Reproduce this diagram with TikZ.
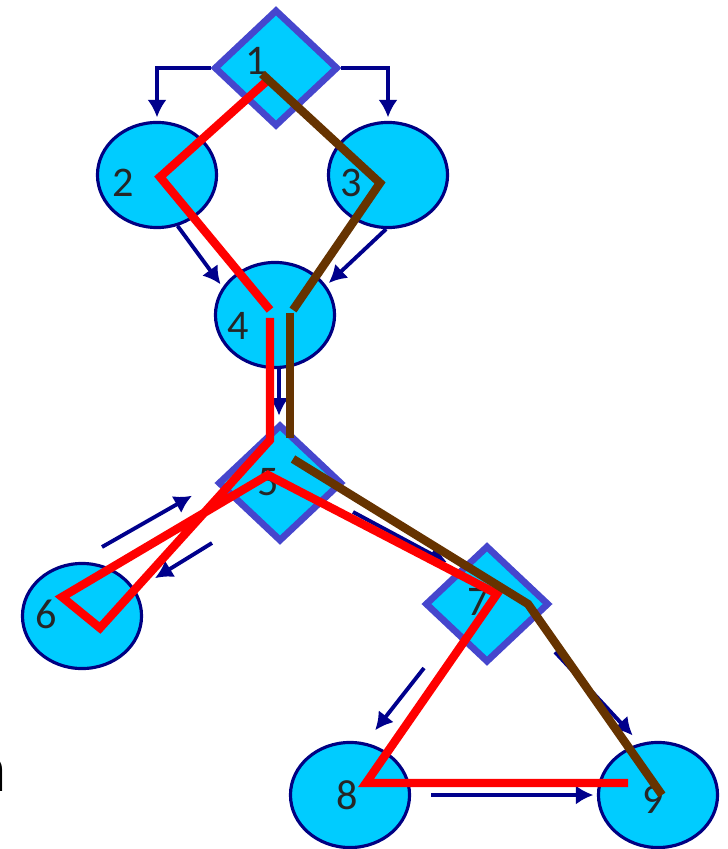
\documentclass[tikz,border=0pt]{standalone}
\usepackage{fontspec}
\setmainfont{Carlito}
\usetikzlibrary{shapes.geometric, arrows.meta, calc}
\definecolor{ballFill}{RGB}{0,204,255}
\definecolor{ballLine}{RGB}{0,0,130}
\definecolor{gateLine}{RGB}{70,70,205}
\definecolor{arrNavy}{RGB}{0,0,140}
\definecolor{routeRed}{RGB}{255,0,0}
\definecolor{routeBrown}{RGB}{102,51,0}
\tikzset{
    >={Latex[length=5pt, width=5.5pt]},
    % Shapes
    ball/.style={ellipse, draw=ballLine, fill=ballFill, line width=0.9pt,
                 minimum width=1.19cm, minimum height=1.05cm, inner sep=0pt},
    gate/.style={diamond, draw=gateLine, fill=ballFill, line width=1.9pt,
                 minimum width=1.24cm, minimum height=1.17cm, inner sep=0pt},
    num/.style={font=\fontsize{12}{14}\selectfont, inner sep=0pt, text=black!85},
    % Flow & routes
    arr/.style={->, draw=arrNavy, line width=1.1pt, shorten >=1pt},
    route/.style={line width=2.4pt}
}

\begin{document}
\begin{tikzpicture}[x=0.01cm, y=-0.01cm]
\useasboundingbox (0,0) rectangle (727,849);

% Nodes
\node[gate] (n1) at (276,68) {};
\node[ball] (n2) at (157,175) {};
\node[ball] (n3) at (388,175) {};
\node[ball] (n4) at (275,315) {};
\node[gate] (n5) at (280,483) {};
\node[ball] (n6) at (82,616) {};
\node[gate] (n7) at (487,604) {};
\node[ball] (n8) at (350,795) {};
\node[ball] (n9) at (658,795) {};

% Numbers
\node[num] (t1) at (256,61) {1};
\node[num] (t2) at (123,183) {2};
\node[num] (t3) at (351,183) {3};
\node[num] (t4) at (238,326) {4};
\node[num] (t5) at (268,482) {5};
\node[num] (t6) at (46,614) {6};
\node[num] (t7) at (478,602) {7};
\node[num] (t8) at (347,795) {8};
\node[num] (t9) at (653,800) {9};

\node[font=\fontsize{20}{22}\selectfont\bfseries, inner sep=0pt, anchor=base east] (side) at (7,791) {a};

% Arrows
\draw[arr] (n1.west) -| (n2);
\draw[arr] (n1.east) -| (n3);
\draw[arr] (n2.-68) -- (n4.152);
\draw[arr] (n3.-92) -- (n4.30);
\draw[arr] ([xshift=0.04cm]n4.south) -- ++(0,50);
\draw[arr] ([shift={(20,-69)}]n6.center) -- ([shift={(-85,11)}]n5.center);
\draw[arr] ([shift={(-68,60)}]n5.center) -- ([shift={(70,-36)}]n6.center);
\draw[arr] ([shift={(73,29)}]n5.center) -- ([shift={(-37,-40)}]n7.center);
\draw[arr] ([shift={(-63,64)}]n7.center) -- ([shift={(23,-62)}]n8.center);
\draw[arr] ([shift={(68,48)}]n7.center) -- ([shift={(-23,-57)}]n9.center);
\draw[arr, shorten <=0.2cm] (n8.east) -- (n9.west);

% Red route
\draw[route, routeRed] ($(n1)+(-8,12)$) -- ($(n2)+(3,2)$) -- ($(n4)+(-5,-5)$);
\draw[route, routeRed] ($(n4)+(-5,3)$) -- ($(n5)+(-10,-43)$) -- ($(n6)+(18,12)$)
    -- ($(n6)+(-20,-19)$) -- ($(n5)+(-12,-8)$) -- ($(n7)+(10,-10)$)
    -- ($(n8)+(16,-12)$) -- ($(n9)+(-30,-12)$);

% Brown route
\draw[route, routeBrown] ($(n1)+(-14,6)$) -- ($(n3)+(-8,8)$) -- ($(n4)+(18,-5)$);
\draw[route, routeBrown] ($(n4)+(15,-2)$) -- ($(n5)+(10,-45)$);
\draw[route, routeBrown] ($(n5)+(13,-24)$) -- ($(n7)+(41,0)$) -- ($(n9)+(4,0)$);

\end{tikzpicture}
\end{document}
